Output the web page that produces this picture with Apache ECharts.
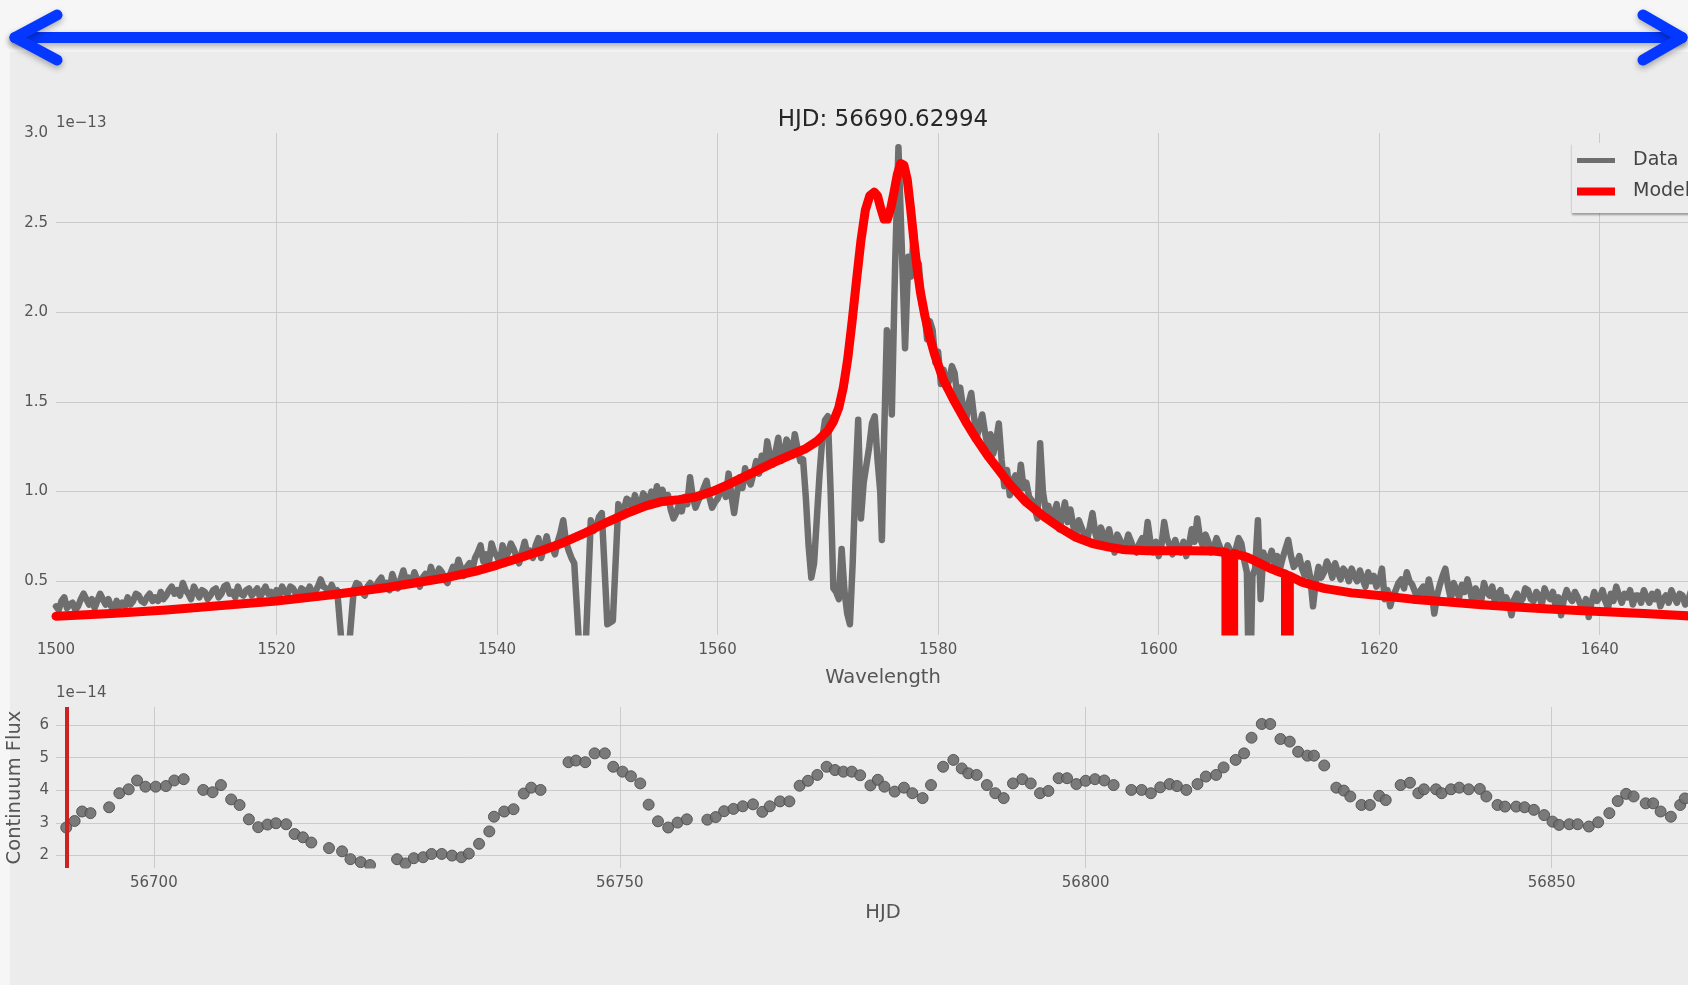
<!DOCTYPE html>
<html>
<head>
<meta charset="utf-8">
<script src="https://cdn.jsdelivr.net/npm/echarts@6/dist/echarts.min.js"></script>
<style>
html,body{margin:0;padding:0;background:#ececec;}
#chart{width:1688px;height:985px;}
</style>
</head>
<body>
<div id="chart"></div>
<script>
// ---------------- DATA ----------------
const currentHJD = 56690.62994;

// Observed spectrum (flux in units of 1e-13), main samples
const dataWave = [
  1500,1500.5,1501,1501.5,1502,1502.5,1503,1503.5,1504,1504.5,
  1505,1505.5,1506,1506.5,1507,1507.5,1508,1508.5,1509,1509.5,
  1510,1510.5,1511,1511.5,1512,1512.5,1513,1513.5,1514,1514.5,
  1515,1515.5,1516,1516.5,1517,1517.5,1518,1518.5,1519,1519.5,
  1520,1520.5,1521,1521.5,1522,1522.5,1523,1523.5,1524,1524.5,
  1525,1525.5,1526,1526.5,1527,1527.5,1528,1528.5,1529,1529.5,
  1530,1530.5,1531,1531.5,1532,1532.5,1533,1533.5,1534,1534.5,
  1535,1535.5,1536,1536.5,1537,1537.5,1538,1538.5,1539,1539.5,
  1540,1540.5,1541,1541.5,1542,1542.5,1543,1543.5,1544,1544.5,
  1545,1545.5,1546,1546.5,1547,1547.5,1548,1548.5,1549,1549.5,
  1550,1550.5,1551,1551.5,1552,1552.5,1553,1553.5,1554,1554.5,
  1555,1555.5,1556,1556.5,1557,1557.5,1558,1558.5,1559,1559.5,
  1560,1560.5,1561,1561.5,1562,1562.5,1563,1563.5,1564,1564.5,
  1565,1565.5,1566,1566.5,1567,1567.5,1567.75,
  1568,1568.25,1568.5,1568.75,1569,1569.25,1569.5,1569.75,1570,1570.25,
  1570.5,1570.75,1571,1571.25,1571.5,1571.75,1572,1572.25,1572.5,1572.75,
  1573,1573.25,1573.5,1573.75,1574,1574.25,1574.5,1574.75,1574.9,1575.1,
  1575.35,1575.6,1575.8,1576.1,1576.4,1576.7,1577,1577.3,1577.55,1577.8,
  1578,1578.25,1578.5,1578.75,1579,1579.25,1579.5,1579.75,1580,1580.25,
  1580.5,1581,1581.5,1582,1582.5,1583,1583.5,1584,1584.5,1585,
  1585.5,1586,1586.5,1587,1587.5,1588,1588.5,1589,1589.25,1589.5,
  1590,1590.5,1591,1591.5,1592,1592.5,1593,1593.5,1594,1594.5,
  1595,1595.5,1596,1596.5,1597,1597.5,1598,1598.5,1599,1599.5,
  1600,1600.5,1601,1601.5,1602,1602.5,1603,1603.5,1604,1604.5,
  1605,1605.5,1606,1606.5,1607,1607.5,
  1608,1608.15,1608.35,1608.5,1608.75,1609,1609.25,1609.5,1610,1610.5,
  1611,1611.5,1611.75,1612,1612.5,1613,1613.5,
  1614,1614.5,1615,1615.5,1616,1616.5,1617,1617.5,1618,1618.5,1619,1619.5,
  1620,1620.25,1620.5,1621,1621.5,1622,1622.5,1623,1623.5,1624,
  1624.5,1625,1625.5,1626,1626.5,1627,1627.5,1628,1628.5,1629,1629.5,
  1630,1630.5,1631,1631.5,1632,1632.5,1633,1633.5,1634,1634.5,
  1635,1635.5,1636,1636.5,1637,1637.5,1638,1638.5,1639,1639.5,
  1640,1640.5,1641,1641.5,1642,1642.5,1643,1643.5,1644,1644.5,
  1645,1645.5,1646,1646.5,1647,1647.5,1648,1648.5,1649,1649.5,1650
];
const dataFlux = [
  0.36,0.39,0.35,0.38,0.36,0.43,0.37,0.35,0.43,0.37,
  0.36,0.39,0.38,0.41,0.39,0.42,0.38,0.43,0.41,0.44,
  0.42,0.47,0.45,0.49,0.43,0.47,0.41,0.44,0.42,0.46,
  0.43,0.48,0.44,0.47,0.42,0.46,0.44,0.41,0.47,0.44,
  0.45,0.47,0.43,0.46,0.42,0.45,0.47,0.44,0.51,0.46,
  0.48,0.45,0.08,0.08,0.45,0.48,0.42,0.49,0.47,0.52,
  0.49,0.54,0.46,0.56,0.52,0.55,0.47,0.54,0.58,0.53,
  0.55,0.49,0.58,0.62,0.53,0.60,0.63,0.70,0.65,0.71,
  0.64,0.70,0.66,0.68,0.60,0.72,0.67,0.70,0.63,0.75,
  0.69,0.72,0.84,0.67,0.60,0.08,0.08,0.84,0.80,0.88,
  0.26,0.28,0.93,0.90,0.95,0.98,0.92,0.97,1.00,1.03,
  1.01,0.98,0.85,0.93,0.97,1.08,0.91,0.98,1.06,0.91,
  0.96,1.02,1.10,0.88,1.08,1.13,1.04,1.17,1.20,1.28,
  1.15,1.30,1.21,1.26,1.32,1.17,1.18,
  0.97,0.70,0.52,0.60,0.85,1.10,1.30,1.40,1.42,1.00,
  0.46,0.44,0.40,0.68,0.45,0.32,0.26,0.60,1.05,1.40,
  0.85,1.05,1.15,1.25,1.38,1.42,1.18,1.00,0.73,1.30,
  1.90,1.85,1.43,2.27,2.92,2.37,1.80,2.31,2.20,2.46,
  2.30,2.27,2.05,2.01,1.85,1.95,1.90,1.72,1.78,1.60,
  1.68,1.62,1.66,1.58,1.38,1.55,1.30,1.43,1.25,1.21,
  1.38,1.03,0.98,1.09,1.15,1.05,0.95,0.85,1.27,1.00,
  0.92,0.88,0.79,0.94,0.90,0.75,0.80,0.73,0.88,0.71,
  0.76,0.79,0.66,0.73,0.70,0.72,0.66,0.74,0.83,0.66,
  0.64,0.83,0.70,0.73,0.66,0.64,0.79,0.85,0.70,0.72,
  0.69,0.70,0.64,0.67,0.68,0.71,
  0.55,0.05,0.05,0.53,0.57,0.84,0.40,0.66,0.62,0.60,
  0.57,0.68,0.73,0.64,0.60,0.57,0.60,
  0.36,0.58,0.55,0.58,0.60,0.51,0.55,0.57,0.50,0.51,0.55,0.53,
  0.50,0.57,0.40,0.36,0.45,0.51,0.55,0.48,0.40,0.47,
  0.51,0.32,0.48,0.57,0.40,0.45,0.48,0.51,0.37,0.43,0.49,
  0.42,0.38,0.45,0.41,0.31,0.43,0.40,0.45,0.39,0.42,
  0.46,0.40,0.36,0.31,0.45,0.39,0.41,0.35,0.30,0.44,
  0.41,0.39,0.43,0.47,0.38,0.41,0.37,0.42,0.45,0.38,
  0.40,0.36,0.42,0.45,0.38,0.42,0.39,0.43,0.38,0.41,0.39
];

// Observed spectrum, in-between samples of the noisy wings
const dataWaveFine = [
  1500.25,1500.75,1501.25,1501.75,1502.25,1502.75,1503.25,1503.75,1504.25,1504.75,
  1505.25,1505.75,1506.25,1506.75,1507.25,1507.75,1508.25,1508.75,1509.25,1509.75,
  1510.25,1510.75,1511.25,1511.75,1512.25,1512.75,1513.25,1513.75,1514.25,1514.75,
  1515.25,1515.75,1516.25,1516.75,1517.25,1517.75,1518.25,1518.75,1519.25,1519.75,
  1520.25,1520.75,1521.25,1521.75,1522.25,1522.75,1523.25,1523.75,1524.25,1524.75,
  1525.25,
  1527.25,1527.75,1528.25,1528.75,1529.25,1529.75,1530.25,1530.75,1531.25,1531.75,
  1532.25,1532.75,1533.25,1533.75,1534.25,1534.75,1535.25,1535.75,1536.25,1536.75,
  1537.25,1537.75,1538.25,1538.75,1539.25,1539.75,1540.25,1540.75,1541.25,1541.75,
  1542.25,1542.75,1543.25,1543.75,1544.25,1544.75,1545.25,1545.75,1546.25,1546.75,
  1548.75,1549.25,
  1551.25,1551.75,1552.25,1552.75,1553.25,1553.75,1554.25,1554.75,1555.25,1555.75,
  1556.25,1556.75,1557.25,1557.75,1558.25,1558.75,1559.25,1559.75,1560.25,1560.75,
  1561.25,1561.75,1562.25,1562.75,1563.25,1563.75,1564.25,1564.75,1565.25,1565.75,
  1566.25,1566.75,1567.25,
  1580.75,1581.25,1581.75,1582.25,1582.75,1583.25,1583.75,1584.25,1584.75,1585.25,
  1585.75,1586.25,1586.75,1587.25,1587.75,1588.25,1588.75,1589.75,1590.25,1590.75,
  1591.25,1591.75,1592.25,1592.75,1593.25,1593.75,1594.25,1594.75,1595.25,1595.75,
  1596.25,1596.75,1597.25,1597.75,1598.25,1598.75,1599.25,1599.75,1600.25,1600.75,
  1601.25,1601.75,1602.25,1602.75,1603.25,1603.75,1604.25,1604.75,1605.25,1605.75,
  1606.25,1606.75,1607.25,1607.75,
  1609.75,1610.25,1610.75,1611.25,
  1612.25,1612.75,1613.25,1613.75,1614.25,1614.75,1615.25,1615.75,1616.25,1616.75,
  1617.25,1617.75,1618.25,1618.75,1619.25,1619.75,
  1620.75,1621.25,1621.75,1622.25,1622.75,1623.25,1623.75,1624.25,1624.75,1625.25,
  1625.75,1626.25,1626.75,1627.25,1627.75,1628.25,1628.75,1629.25,1629.75,1630.25,
  1630.75,1631.25,1631.75,1632.25,1632.75,1633.25,1633.75,1634.25,1634.75,1635.25,
  1635.75,1636.25,1636.75,1637.25,1637.75,1638.25,1638.75,1639.25,1639.75,1640.25,
  1640.75,1641.25,1641.75,1642.25,1642.75,1643.25,1643.75,1644.25,1644.75,1645.25,
  1645.75,1646.25,1646.75,1647.25,1647.75,1648.25,1648.75,1649.25,1649.75
];
const dataFluxFine = [
  0.34,0.41,0.37,0.34,0.40,0.40,0.40,0.39,0.40,0.40,
  0.34,0.36,0.36,0.37,0.43,0.39,0.41,0.39,0.39,0.40,
  0.45,0.43,0.42,0.45,0.40,0.44,0.45,0.40,0.45,0.41,
  0.47,0.43,0.41,0.43,0.45,0.42,0.46,0.44,0.43,0.41,
  0.42,0.44,0.47,0.43,0.46,0.42,0.43,0.47,0.47,0.43,
  0.44,
  0.49,0.44,0.47,0.45,0.50,0.47,0.45,0.49,0.51,0.50,
  0.48,0.51,0.52,0.50,0.53,0.57,0.51,0.54,0.55,0.57,
  0.58,0.56,0.66,0.61,0.60,0.66,0.60,0.63,0.71,0.64,
  0.66,0.65,0.63,0.74,0.69,0.68,0.65,0.77,0.72,0.63,
  0.78,0.86,
  0.87,0.96,0.90,0.93,0.99,0.93,0.95,0.97,0.94,0.90,
  0.88,0.89,0.93,0.97,0.95,1.02,0.97,0.94,1.00,0.97,
  0.98,0.99,1.02,1.07,1.10,1.10,1.14,1.20,1.22,1.17,
  1.29,1.20,1.24,
  1.58,1.70,1.52,1.47,1.49,1.42,1.37,1.33,1.32,1.28,
  1.18,1.12,1.06,1.00,1.02,0.97,0.91,0.90,0.84,0.93,
  0.86,0.83,0.81,0.84,0.76,0.80,0.77,0.80,0.70,0.72,
  0.76,0.67,0.76,0.68,0.71,0.69,0.72,0.72,0.70,0.74,
  0.65,0.68,0.72,0.70,0.72,0.74,0.76,0.66,0.74,0.66,
  0.70,0.63,0.74,0.62,
  0.60,0.67,0.64,0.63,
  0.58,0.64,0.53,0.52,0.50,0.52,0.61,0.52,0.55,0.57,
  0.50,0.53,0.56,0.47,0.50,0.47,
  0.45,0.42,0.49,0.46,0.50,0.44,0.45,0.42,0.44,0.42,
  0.53,0.47,0.49,0.41,0.44,0.45,0.46,0.39,0.44,0.47,
  0.43,0.37,0.38,0.40,0.38,0.46,0.40,0.44,0.37,0.42,
  0.44,0.41,0.40,0.41,0.44,0.37,0.40,0.38,0.39,0.45,
  0.35,0.39,0.42,0.43,0.45,0.42,0.38,0.41,0.43,0.44,
  0.40,0.38,0.41,0.43,0.37,0.44,0.39,0.42,0.37
];

// Model fit (flux in units of 1e-13)
const modelWave = [
  1500,1505,1510,1515,1520,1525,1530,1535,1538,1540,
  1542,1544,1546,1548,1550,1552,1553.5,1555,1556.5,1558,
  1559.5,1561,1563,1565,1566.5,1568,1569,1570,1570.5,1571,
  1571.4,1571.8,1572.2,1572.6,1573,1573.4,1573.8,1574.2,1574.5,1574.8,
  1575.1,1575.4,1575.7,1576,1576.3,1576.6,1576.9,1577.2,1577.5,1577.8,
  1578.1,1578.4,1578.8,1579.2,1579.7,1580.5,1581.5,1582.5,1583.5,1584.5,
  1585.5,1586.5,1588,1589.5,1591,1592.5,1594,1595.5,1597,1599,
  1601,1603,1605,1606.1,1606.1,1606.8,1606.8,1608,1609,1610,
  1611,1611.5,1611.5,1611.85,1611.85,1613,1615,1617.5,1620,1623,
  1626,1629,1632,1635,1638,1641,1644,1647,1650
];
const modelFlux = [
  0.305,0.32,0.34,0.365,0.39,0.425,0.465,0.515,0.555,0.59,
  0.63,0.67,0.715,0.77,0.83,0.885,0.92,0.945,0.955,0.97,
  1.0,1.04,1.10,1.16,1.20,1.24,1.28,1.34,1.39,1.47,
  1.58,1.74,1.95,2.18,2.40,2.57,2.65,2.67,2.65,2.58,
  2.52,2.52,2.58,2.67,2.77,2.83,2.82,2.74,2.58,2.40,
  2.24,2.11,1.98,1.87,1.76,1.62,1.50,1.39,1.29,1.20,
  1.12,1.04,0.94,0.865,0.80,0.745,0.71,0.69,0.675,0.67,
  0.67,0.67,0.668,0.66,0.0,0.0,0.655,0.635,0.605,0.575,
  0.55,0.54,0.0,0.0,0.53,0.495,0.46,0.435,0.42,0.40,
  0.385,0.37,0.357,0.346,0.337,0.328,0.32,0.31,0.30
];

// Continuum light curve (flux in units of 1e-14)
const lcHJD = [
  56690.6,56691.5,56692.3,56693.2,56695.2,56696.3,56697.3,56698.2,56699.1,56700.2,
  56701.3,56702.2,56703.2,56705.3,56706.3,56707.2,56708.3,56709.2,56710.2,56711.2,
  56712.2,56713.1,56714.2,56715.1,56716.0,56716.9,56718.8,56720.2,56721.1,56722.2,
  56723.2,56726.1,56727.0,56727.9,56728.9,56729.8,56730.9,56732.0,56733.0,56733.8,
  56734.9,56736.0,56736.5,56737.6,56738.6,56739.7,56740.5,56741.5,56744.5,56745.3,
  56746.3,56747.3,56748.4,56749.3,56750.3,56751.2,56752.2,56753.1,56754.1,56755.2,
  56756.2,56757.2,56759.4,56760.3,56761.2,56762.2,56763.2,56764.3,56765.3,56766.1,
  56767.2,56768.2,56769.3,56770.2,56771.2,56772.2,56773.1,56774.0,56774.9,56775.8,
  56776.9,56777.7,56778.4,56779.5,56780.5,56781.4,56782.5,56783.4,56784.7,56785.8,
  56786.7,56787.4,56788.3,56789.4,56790.3,56791.2,56792.2,56793.2,56794.1,56795.1,
  56796.0,56797.1,56798.0,56799.0,56800.0,56801.0,56802.0,56803.0,56804.9,56806.0,
  56807.0,56808.0,56809.0,56809.8,56810.8,56812.0,56812.9,56814.0,56814.8,56816.1,
  56817.0,56817.8,56818.9,56819.8,56820.9,56821.9,56822.8,56823.8,56824.5,56825.6,
  56826.9,56827.7,56828.4,56829.6,56830.5,56831.5,56832.2,56833.8,56834.8,56835.7,
  56836.3,56837.6,56838.2,56839.2,56840.1,56841.1,56842.3,56843.0,56844.2,56845.0,
  56846.2,56847.1,56848.1,56849.2,56850.1,56850.8,56851.9,56852.8,56854.0,56855.0,
  56856.2,56857.1,56858.0,56858.8,56860.1,56860.9,56861.7,56862.8,56863.8,56864.3
];
const lcFlux = [
  2.86,3.06,3.35,3.30,3.48,3.91,4.03,4.30,4.11,4.11,
  4.13,4.30,4.34,4.01,3.94,4.16,3.72,3.55,3.11,2.87,
  2.95,2.99,2.96,2.66,2.56,2.40,2.23,2.13,1.89,1.80,
  1.71,1.89,1.76,1.92,1.95,2.05,2.05,2.00,1.95,2.06,
  2.36,2.74,3.19,3.35,3.42,3.90,4.08,4.01,4.86,4.91,
  4.86,5.13,5.13,4.72,4.57,4.43,4.21,3.56,3.05,2.86,
  3.01,3.11,3.10,3.18,3.36,3.43,3.51,3.57,3.34,3.51,
  3.66,3.66,4.14,4.29,4.47,4.72,4.62,4.57,4.57,4.46,
  4.15,4.32,4.11,3.96,4.08,3.91,3.76,4.16,4.72,4.93,
  4.67,4.52,4.47,4.16,3.91,3.76,4.21,4.34,4.21,3.91,
  3.98,4.37,4.37,4.19,4.29,4.34,4.30,4.16,4.01,4.01,
  3.91,4.09,4.19,4.13,4.01,4.19,4.42,4.47,4.70,4.93,
  5.13,5.61,6.03,6.03,5.57,5.49,5.18,5.06,5.06,4.76,
  4.08,3.99,3.81,3.55,3.55,3.83,3.70,4.16,4.23,3.91,
  4.03,4.03,3.91,4.03,4.08,4.03,4.04,3.81,3.55,3.50,
  3.50,3.48,3.40,3.24,3.04,2.94,2.96,2.96,2.89,3.02,
  3.30,3.67,3.89,3.81,3.60,3.60,3.35,3.19,3.55,3.75
];

// ---------------- CHART ----------------
const FONT = 'DejaVu Sans';
const TICK = '#555555';
const GRIDC = '#cbcbcb';
const BG = '#ececec';

const spectrumPoints = dataWave.map((w, i) => [w, dataFlux[i]])
  .concat(dataWaveFine.map((w, i) => [w, dataFluxFine[i]]))
  .sort((a, b) => a[0] - b[0]);

const chart = echarts.init(document.getElementById('chart'), null, {renderer: 'canvas'});

const arrowStyle = {
  fill: null, stroke: '#0437ff', lineWidth: 11, lineCap: 'round', lineJoin: 'round',
  shadowBlur: 6, shadowColor: 'rgba(0,0,0,0.3)', shadowOffsetY: 3
};

const option = {
  animation: false,
  backgroundColor: BG,
  textStyle: {fontFamily: FONT},
  grid: [
    {left: 56, right: -22, top: 133, bottom: 350, outerBoundsMode: 'none', containLabel: false},
    {left: 56, right: -22, top: 707, bottom: 117, outerBoundsMode: 'none', containLabel: false}
  ],
  xAxis: [
    {
      type: 'value', gridIndex: 0, min: 1500, max: 1650, interval: 20,
      axisLine: {show: false}, axisTick: {show: false},
      axisLabel: {color: TICK, fontSize: 15, fontFamily: FONT, margin: 8,
                  showMaxLabel: false, formatter: v => String(v)},
      splitLine: {show: true, showMinLine: false, showMaxLine: false,
                  lineStyle: {color: GRIDC, width: 1}},
      name: 'Wavelength', nameLocation: 'middle', nameGap: 33,
      nameTextStyle: {color: TICK, fontSize: 19.5, fontFamily: FONT}
    },
    {
      type: 'value', gridIndex: 1, min: 56689.5, max: 56867,
      minInterval: 50, maxInterval: 50,
      axisLine: {show: false}, axisTick: {show: false},
      axisLabel: {color: TICK, fontSize: 15, fontFamily: FONT, margin: 8,
                  showMinLabel: false, showMaxLabel: false, formatter: v => String(v)},
      splitLine: {show: true, showMinLine: false, showMaxLine: false,
                  lineStyle: {color: GRIDC, width: 1}},
      name: 'HJD', nameLocation: 'middle', nameGap: 35,
      nameTextStyle: {color: TICK, fontSize: 19.5, fontFamily: FONT}
    }
  ],
  yAxis: [
    {
      type: 'value', gridIndex: 0, min: 0.2, max: 3.0,
      minInterval: 0.5, maxInterval: 0.5,
      axisLine: {show: false}, axisTick: {show: false},
      axisLabel: {color: TICK, fontSize: 15, fontFamily: FONT, margin: 8,
                  showMinLabel: false, showMaxLabel: true, formatter: v => v.toFixed(1)},
      splitLine: {show: true, showMinLine: false, showMaxLine: false,
                  lineStyle: {color: GRIDC, width: 1}}
    },
    {
      type: 'value', gridIndex: 1, min: 1.62, max: 6.55,
      minInterval: 1, maxInterval: 1,
      axisLine: {show: false}, axisTick: {show: false},
      axisLabel: {color: TICK, fontSize: 15, fontFamily: FONT, margin: 7,
                  showMinLabel: false, showMaxLabel: false, formatter: v => String(v)},
      splitLine: {show: true, showMinLine: false, showMaxLine: false,
                  lineStyle: {color: GRIDC, width: 1}},
      name: 'Continuum Flux', nameLocation: 'middle', nameRotate: 90, nameGap: 31,
      nameTextStyle: {color: TICK, fontSize: 19.5, fontFamily: FONT}
    }
  ],
  legend: {
    orient: 'vertical', left: 1572, top: 143,
    itemWidth: 38, itemHeight: 12, itemGap: 12,
    padding: [8, 40, 12, 5],
    backgroundColor: BG, borderWidth: 0,
    shadowColor: 'rgba(0,0,0,0.35)', shadowBlur: 2, shadowOffsetY: 2,
    textStyle: {color: '#444', fontSize: 19, fontFamily: FONT, padding: [0, 0, 0, 13]},
    selectedMode: false,
    data: [
      {name: 'Data', icon: 'path://M0,0H38V5H0Z', itemStyle: {color: '#6e6e6e'}},
      {name: 'Model', icon: 'path://M0,0H38V8H0Z', itemStyle: {color: '#ff0000'}}
    ]
  },
  series: [
    {
      name: 'Data', type: 'line', xAxisIndex: 0, yAxisIndex: 0,
      data: spectrumPoints,
      symbol: 'none', showSymbol: false, silent: true, z: 2,
      lineStyle: {color: '#6e6e6e', width: 6.5, join: 'round', cap: 'round'},
      itemStyle: {color: '#6e6e6e'}
    },
    {
      name: 'Model', type: 'line', xAxisIndex: 0, yAxisIndex: 0,
      data: modelWave.map((w, i) => [w, modelFlux[i]]),
      symbol: 'none', showSymbol: false, silent: true, z: 3,
      lineStyle: {color: '#ff0000', width: 9, join: 'round', cap: 'round'},
      itemStyle: {color: '#ff0000'}
    },
    {
      name: 'Continuum', type: 'scatter', xAxisIndex: 1, yAxisIndex: 1,
      data: lcHJD.map((h, i) => [h, lcFlux[i]]),
      symbol: 'circle', symbolSize: 11, silent: true,
      itemStyle: {color: '#6e6e6e', borderColor: '#4f4f4f', borderWidth: 1, opacity: 0.9},
      markLine: {
        silent: true, symbol: ['none', 'none'], label: {show: false},
        lineStyle: {color: '#cc2222', width: 4, type: 'solid'},
        data: [{xAxis: currentHJD}]
      }
    }
  ],
  graphic: [
    {type: 'rect', silent: true, z: -10, shape: {x: 0, y: 0, width: 1688, height: 52}, style: {fill: '#f6f6f6'}},
    {type: 'rect', silent: true, z: -10, shape: {x: 0, y: 0, width: 10, height: 985}, style: {fill: '#f6f6f6'}},
    // masks trimming line/marker overflow below the plotting areas
    {type: 'rect', silent: true, z: 50, shape: {x: 10, y: 635.5, width: 1678, height: 5}, style: {fill: BG}},
    {type: 'rect', silent: true, z: 50, shape: {x: 10, y: 868.6, width: 1678, height: 6}, style: {fill: BG}},
    {type: 'polyline', silent: true, z: 100, shape: {points: [[15, 37.5], [1682, 37.5]]}, style: arrowStyle},
    {type: 'polyline', silent: true, z: 100, shape: {points: [[57, 15], [15, 37.5], [57, 60]]}, style: arrowStyle},
    {type: 'polyline', silent: true, z: 100, shape: {points: [[1643, 15], [1682, 37.5], [1643, 60]]}, style: arrowStyle},
    {type: 'text', silent: true, z: 100, x: 883, y: 120,
     style: {text: 'HJD: ' + currentHJD.toFixed(5), fill: '#262626', font: '23px "DejaVu Sans"',
             textAlign: 'center', textVerticalAlign: 'middle'}},
    {type: 'text', silent: true, z: 100, x: 56, y: 123,
     style: {text: '1e\u221213', fill: TICK, font: '15px "DejaVu Sans"', textAlign: 'left', textVerticalAlign: 'middle'}},
    {type: 'text', silent: true, z: 100, x: 56, y: 693,
     style: {text: '1e\u221214', fill: TICK, font: '15px "DejaVu Sans"', textAlign: 'left', textVerticalAlign: 'middle'}}
  ]
};
chart.setOption(option);
</script>
</body>
</html>
